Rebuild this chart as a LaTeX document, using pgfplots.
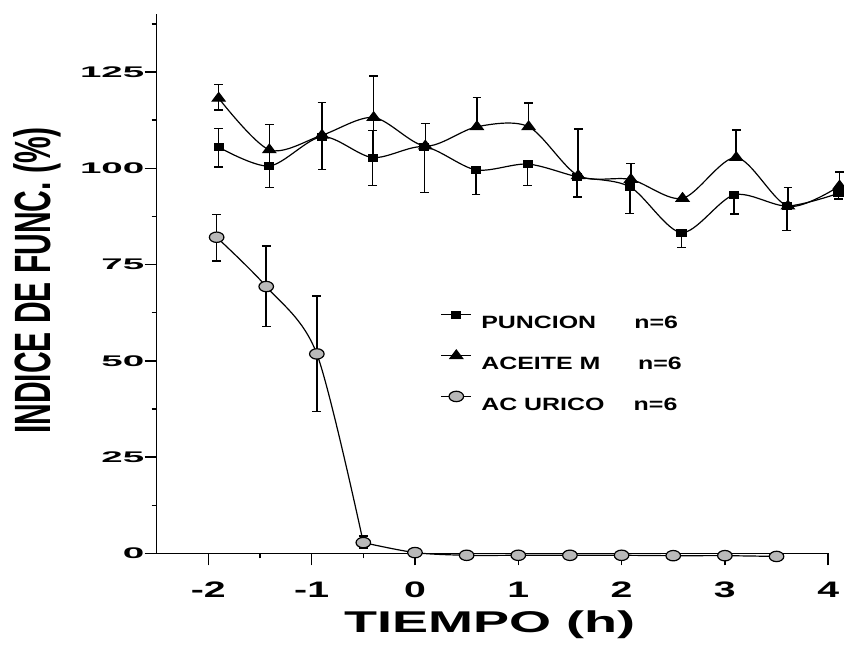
\documentclass[border=0pt]{standalone}
\usepackage{fontspec}
\setmainfont{Liberation Sans}
\usepackage{graphicx}
\usepackage{pgfplots}
\pgfplotsset{compat=1.18}
\usepackage{pgfplotstable}

\newcommand\yt[1]{\scalebox{2.5}[1]{\fontsize{7.7bp}{8bp}\selectfont\bfseries #1}}
\newcommand\xt[1]{\scalebox{1.75}[1]{\fontsize{11.2bp}{12bp}\selectfont\bfseries #1}}
\newcommand\lgt[2]{\makebox[#1][l]{\scalebox{1.4}[1]{\fontsize{8.9bp}{9bp}\selectfont\bfseries #2}}\scalebox{1.4}[1]{\fontsize{8.9bp}{9bp}\selectfont\bfseries n=6}}

\pgfplotstableread{
x y ep em
-1.90 105.5 4.9 5.2
-1.41 100.6 0 5.6
-0.90 108.2 0 0
-0.41 102.8 7.0 7.3
0.09 105.6 0 11.9
0.59 99.6 0 6.4
1.09 101.1 0 5.6
1.57 97.8 0 5.2
2.08 95.2 0 6.9
2.58 83.3 0 3.9
3.09 93.1 0 5.0
3.60 90.2 0 6.4
4.10 93.5 0 1.5
}\punc

\pgfplotstableread{
x y ep em
-1.90 118.2 3.6 3.1
-1.41 104.8 6.6 4.2
-0.90 108.6 8.5 8.9
-0.40 113.2 10.8 10.8
0.10 105.8 5.9 0
0.60 110.8 7.6 0
1.10 110.8 6.2 0
1.58 98.1 12.1 0
2.09 97.1 4.2 0
2.59 92.2 0 0
3.11 102.8 7.2 0
3.61 90.2 4.8 0
4.11 95.4 3.6 0
}\aceite

\pgfplotstableread{
x y ep em
-1.92 82.1 5.9 6.2
-1.44 69.3 10.5 10.4
-0.95 51.8 15.0 15.0
-0.50 2.8 1.7 1.4
0.00 0.2 0 0
0.50 -0.5 0 0
1.00 -0.5 0 0
1.50 -0.5 0 0
2.00 -0.5 0 0
2.50 -0.6 0 0
3.00 -0.6 0 0
3.50 -0.8 0 0
}\urico

\pgfplotsset{
  myleg/.style={legend image code/.code={
    \path[draw=none, fill=none] (0bp,-10bp) rectangle (15bp,10bp);
    \draw[##1, sharp plot, mark repeat=2, mark phase=2, line width=0.6bp]
      plot coordinates {(0bp,4.7bp) (7.5bp,4.7bp) (15bp,4.7bp)};
  }},
  myerr/.style={error bars/y dir=both, error bars/y explicit,
    error bars/error bar style={line width=0.75bp, black},
    error bars/error mark options={rotate=90, mark size=2.2bp, line width=0.75bp, black}},
}

\begin{document}
\begin{tikzpicture}
\begin{axis}[
  at={(0,0)}, anchor=south west,
  scale only axis,
  width=335.7bp, height=269.5bp,
  xmin=-2.5, xmax=4.0, ymin=0, ymax=140,
  clip=false,
  axis lines*=left,
  axis line style={line width=0.7bp, black},
  tick style={line width=0.7bp, black},
  tick align=outside,
  major tick length=6bp, minor tick length=2.5bp,
  xtick={-2,-1,0,1,2,3,4},
  minor xtick={-1.5,-0.5,0.5,1.5,2.5,3.5},
  xticklabels={\xt{-2},\xt{-1},\xt{0},\xt{1},\xt{2},\xt{3},\xt{4}},
  ytick={0,25,50,75,100,125},
  minor ytick={12.5,37.5,62.5,87.5,112.5,137.5},
  yticklabels={\yt{0}\hspace{4.5bp},\yt{25},\yt{50},\yt{75},\yt{100},\yt{125}},
  xticklabel style={inner sep=0pt, anchor=north, yshift=-8bp},
  yticklabel style={inner sep=0pt, anchor=east},
  xlabel={\scalebox{1.8}[1]{\fontsize{15bp}{16bp}\selectfont\bfseries TIEMPO (h)}},
  xlabel style={at={(axis description cs:0.4957,-0.1460)}, anchor=base, inner sep=0pt},
  ylabel={\scalebox{1}[1.7]{\fontsize{15bp}{16bp}\selectfont\bfseries INDICE DE FUNC. (\%)}},
  ylabel style={at={(axis description cs:-0.1588,0.506)}, anchor=base, inner sep=0pt},
  legend style={at={(axis cs:0.249,64.7)}, anchor=north west, draw=none, fill=none,
    inner sep=0pt, outer sep=0pt, row sep=0.4bp, column sep=4.7bp,
    nodes={inner sep=0pt}},
  legend cell align=left,
]
% AC URICO connecting curve (drawn in two smooth pieces)
\addplot[black, line width=0.6bp, smooth, forget plot] coordinates {
  (-1.92,82.1) (-1.44,69.3) (-0.95,51.8) (-0.50,2.8)};
\addplot[black, line width=0.6bp, smooth, forget plot] coordinates {
  (-0.50,2.8) (0.00,0.2) (0.50,-0.5) (1.00,-0.5) (1.50,-0.5) (2.00,-0.5) (2.50,-0.6) (3.00,-0.6) (3.50,-0.8)};

\addplot[black, line width=0.6bp, smooth, mark=square*,
  mark options={solid, xscale=1.3, fill=black}, mark size=1.7bp, myleg, myerr]
  table[x=x, y=y, y error plus=ep, y error minus=em] {\punc};
\addlegendentry{\lgt{76.5bp}{PUNCION}}

\addplot[black, line width=0.6bp, smooth, mark=triangle*,
  mark options={solid, xscale=1.3, fill=black}, mark size=2.8bp, myleg, myerr]
  table[x=x, y=y, y error plus=ep, y error minus=em] {\aceite};
\addlegendentry{\lgt{78.4bp}{ACEITE M}}

\addplot[black, line width=0.6bp, only marks, mark=*,
  mark options={solid, xscale=1.4, fill=gray!55, draw=black, line width=0.6bp}, mark size=2.6bp, myleg, myerr]
  table[x=x, y=y, y error plus=ep, y error minus=em] {\urico};
\addlegendentry{\lgt{76.2bp}{AC URICO}}
\end{axis}
\pgfresetboundingbox
\useasboundingbox (-78.35bp,-48.85bp) rectangle (343.6bp,276.65bp);
\end{tikzpicture}
\end{document}
